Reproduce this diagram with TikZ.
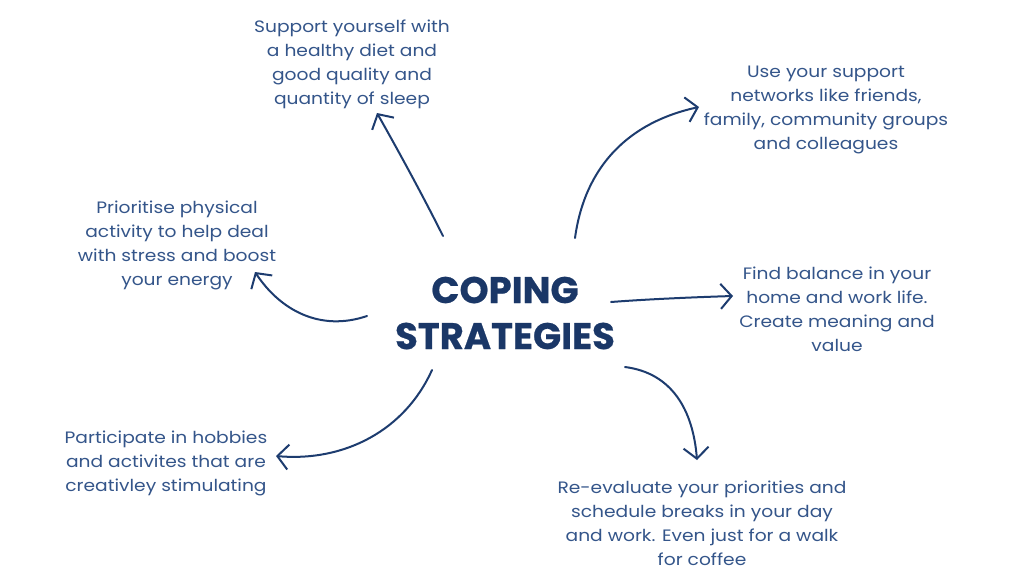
\documentclass[tikz,border=0pt]{standalone}
\usepackage{fontspec}
\setmainfont{Poppins}[FakeStretch=1.13]
\newfontfamily\titlefont{Poppins}[FakeBold=0.6]
\usetikzlibrary{arrows.meta}
\definecolor{txtblue}{HTML}{34558A}
\definecolor{arrblue}{HTML}{1D3C6F}
\definecolor{titleblue}{HTML}{1A3767}
\tikzset{
  tip/.style={align=center, text=txtblue, font=\fontsize{16.5}{24}\selectfont, inner sep=0pt},
  conn/.style={draw=arrblue, line width=2pt, line cap=round, line join=round,
    -{Straight Barb[length=11pt, width=25pt, line width=2pt]}},
}
\begin{document}
\begin{tikzpicture}[x=1pt,y=-1pt]
\useasboundingbox[fill=white] (0,0) rectangle (1024,581);
\node[text=titleblue, font=\titlefont\bfseries\fontsize{37}{46}\selectfont, align=center, inner sep=0pt] (title) at (505,313) {COPING\\STRATEGIES};

\node[tip] (t1) at (352,64) {Support yourself with\\a healthy diet and\\good quality and\\quantity of sleep};
\node[tip] (t2) at (826,110) {Use your support\\networks like friends,\\family, community groups\\and colleagues};
\node[tip] (t3) at (177,245) {Prioritise physical\\activity to help deal\\with stress and boost\\your energy};
\node[tip] (t4) at (837,309) {Find balance in your\\home and work life.\\Create meaning and\\value};
\node[tip] (t5) at (166,463) {Participate in hobbies\\and activites that are\\creativley stimulating};
\node[tip] (t6) at (702,523) {Re-evaluate your priorities and\\schedule breaks in your day\\and work. Even just for a walk\\for coffee};

\coordinate (s1) at (443,236); \coordinate (e1) at (377,113);
\coordinate (s2) at (575,238); \coordinate (e2) at (699,107);
\coordinate (s3) at (611,302); \coordinate (e3) at (733,296);
\coordinate (s4) at (625,367); \coordinate (e4) at (697,460);
\coordinate (s5) at (432,370); \coordinate (e5) at (276,456);
\coordinate (s6) at (367,316); \coordinate (e6) at (255,272);

\draw[conn] (s1) .. controls (420,190) and (395,145) .. (e1);
\draw[conn] (s2) .. controls (585,165) and (630,122) .. (e2);
\draw[conn] (s3) .. controls (650,299) and (700,297) .. (e3);
\draw[conn] (s4) .. controls (672,373) and (693,410) .. (e4);
\draw[conn] (s5) .. controls (405,430) and (345,462) .. (e5);
\draw[conn] (s6) .. controls (320,332) and (280,310) .. (e6);
\end{tikzpicture}
\end{document}
